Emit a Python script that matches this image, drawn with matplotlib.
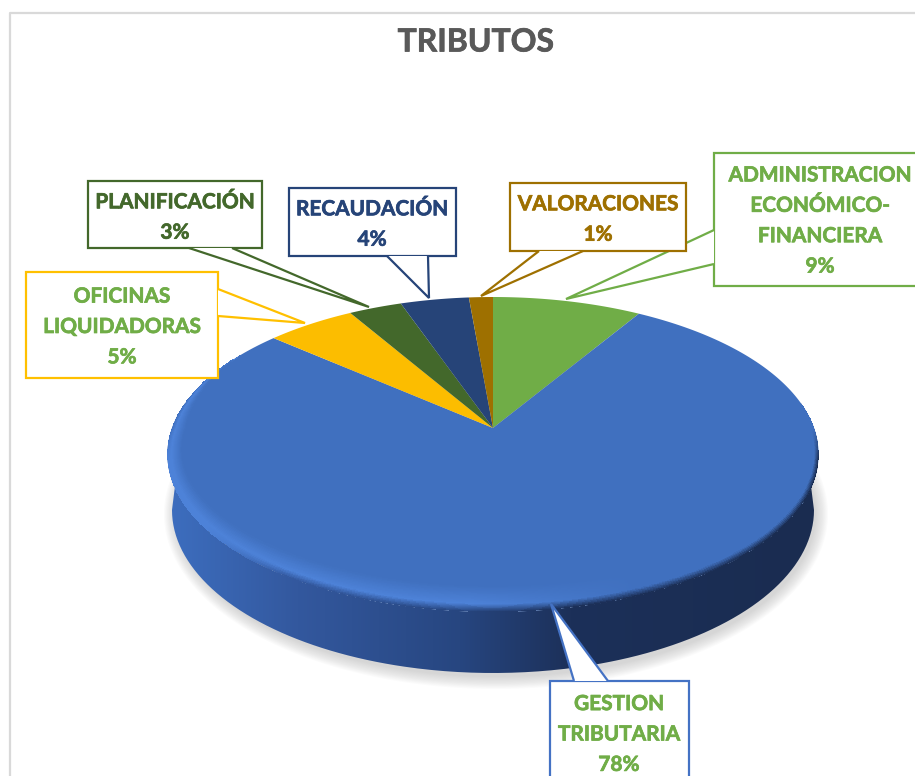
import matplotlib
matplotlib.use("Agg")
import matplotlib.pyplot as plt
import matplotlib.patheffects as pe
from matplotlib.patches import Polygon, Rectangle, PathPatch
from matplotlib.path import Path
from matplotlib.colors import LinearSegmentedColormap, to_rgb
import numpy as np

# slices, clockwise from twelve o'clock
categories = ["ADMINISTRACION\nECONÓMICO-\nFINANCIERA", "GESTION\nTRIBUTARIA", "OFICINAS\nLIQUIDADORAS",
              "PLANIFICACIÓN", "RECAUDACIÓN", "VALORACIONES"]
values = [8.7, 77.6, 5.2, 3.1, 4.0, 1.4]
slice_colors = ["#70AD47", "#4070BF", "#FCBD00", "#43682B", "#264478", "#9E7000"]
label_colors = ["#70AD47", "#70AD47", "#70AD47", "#43682B", "#264478", "#9E7000"]
border_colors = ["#70AD47", "#4472C4", "#FFC000", "#43682B", "#264478", "#9E7000"]
chart_title = "TRIBUTOS"

plt.rcParams['font.family'] = ['Lato', 'DejaVu Sans']

fig = plt.figure(figsize=(9.15, 7.76), dpi=100)
ax = fig.add_axes([0, 0, 1, 1])
ax.axis("off")

# perspective of the pie disc
cx, cy = 493, 428
a, b, k = 321, 153, 0.168


def project(ang, r=1.0):
    u = r * np.sin(ang)
    v = r * np.cos(ang)
    w = 1 + k * v
    return cx + a * u / w, cy - b * v / w


def sector(a0, a1):
    t = np.linspace(a0, a1, 300)
    x, y = project(t)
    return np.column_stack([np.r_[cx, x], np.r_[cy, y]])


def bold(color, width=0.5):
    return [pe.withStroke(linewidth=width, foreground=color)]


edges = np.radians(np.r_[0, np.cumsum(values)] * 3.6)

# outer frame of the chart
ax.plot([915, 10, 10], [13, 13, 776], color="#D9D9D9", lw=1.6, zorder=1)

# soft shadow under the disc, follows the base of the wall
th = np.linspace(0, 2 * np.pi, 400)
for i in range(12):
    grow = 13 - i * 1.1
    ax.fill(496 + (319 + grow) * np.cos(th), 514 + (162 + grow) * np.sin(th),
            color="#8C8C8C", alpha=0.032, lw=0, zorder=2)

# side wall, gets dark towards the right
wall_stops = [(0, "#3D6EBF"), (0.2, "#33589E"), (0.45, "#274680"), (0.62, "#1C3059"), (1, "#1A2C50")]
side_cmap = LinearSegmentedColormap.from_list("side", wall_stops)
front = np.linspace(np.pi / 2 - 0.17, 3 * np.pi / 2 + 0.17, 300)
fx, fy = project(front)
base = np.linspace(0, np.pi, 300)
bx, by = 493 + 321 * np.cos(base), 510 + 163 * np.sin(base)
verts = np.r_[np.column_stack([fx, fy]), np.column_stack([bx[::-1], by[::-1]])]
im = ax.imshow(np.linspace(0, 1, 256)[None, :], cmap=side_cmap, extent=(167, 818, 700, 400),
               aspect="auto", zorder=3)
im.set_clip_path(PathPatch(Path(np.r_[verts, verts[:1]]), transform=ax.transData))
ax.set_xlim(0, 915)
ax.set_ylim(776, 0)

# slices
i_blue = categories.index("GESTION\nTRIBUTARIA")
for i, col in enumerate(slice_colors):
    ax.add_patch(Polygon(sector(edges[i], edges[i + 1]), closed=True, fc=col, ec="none", zorder=4))

# bevel of the blue slice as a strip along its rim
face = np.array(to_rgb(slice_colors[i_blue]))
shine = np.array(to_rgb("#4D82D8"))
t_b = np.linspace(np.pi / 2 - 0.17, 3 * np.pi / 2 + 0.75, 500)
s_b = np.linspace(0, 1, 30)
T, S = np.meshgrid(t_b, s_b)
fade = np.clip((0.55 - np.cos(T)) / 0.55, 0, 1)                       # none at the back of the disc
fade = fade * np.clip((3 * np.pi / 2 + 0.75 - T) / 0.5, 0, 1)
X, Y = project(T, 1 - 0.042 * S * fade)
Y = Y - 16 * S * np.maximum(-np.cos(T), 0)
p = (X - 167) / 651
wall_rgb = np.array([side_cmap(v)[:3] for v in p.ravel()]).reshape(p.shape + (3,))
shine_w = np.clip((0.72 - p) / 0.25, 0, 1)[..., None]
mid = shine * shine_w + face * (1 - shine_w)
back = np.clip(np.cos(T) / 0.2 + 1, 0, 1)[..., None]                  # rim stays flat colour behind
edge = wall_rgb * (1 - back) + face * back
left_bright = (np.clip((0.18 - p) / 0.12, 0, 1) * (1 - back[..., 0]))[..., None]
edge = edge * (1 - left_bright) + shine * left_bright
s3 = S[..., None]
c = np.where(s3 < 0.3, edge + (mid - edge) * s3 / 0.3, mid + (face - mid) * (s3 - 0.3) / 0.7)
c = np.where(fade[..., None] > 0, c, face)
ax.pcolormesh(X, Y, c[:-1, :-1], shading="flat", antialiased=False, linewidth=0, zorder=5)
ax.set_xlim(0, 915)
ax.set_ylim(776, 0)

ax.text(476, 42, chart_title, color="#595959", fontsize=23, fontweight="bold", ha="center", va="center",
        path_effects=bold("#595959"))

# callouts: box (x0, y0, x1, y1), pointer base points and tip, text centre
callouts = {
    0: ((714, 153, 930, 286), [(714, 230), (566, 299), (714, 264)], (820, 221)),
    1: ((550, 681, 689, 800), [(574, 681), (551, 604), (608, 681)], (619, 734.5)),
    2: ((26, 272, 218, 378), [(218, 289), (305, 323), (218, 316)], (122, 327)),
    3: ((88, 181, 262, 248), [(189, 248), (369, 307), (232, 248)], (175, 217.5)),
    4: ((289, 188, 456, 256), [(387, 256), (429, 298), (428, 256)], (372, 224.5)),
    5: ((510, 183, 686, 251), [(539, 251), (481, 296), (583, 251)], (598, 219.5)),
}
for z, i in enumerate(callouts):
    (x0, y0, x1, y1), ptr, (tx, ty) = callouts[i]
    ax.add_patch(Rectangle((x0, y0), x1 - x0, y1 - y0, fc="white", ec=border_colors[i], lw=1.6, zorder=6 + z))
    ax.add_patch(Polygon(ptr, closed=False, fc="white", ec=border_colors[i], lw=1.6, zorder=6 + z,
                         joinstyle="miter"))
    ax.text(tx, ty, f"{categories[i]}\n{round(values[i])}%", color=label_colors[i], fontsize=15,
            fontweight="bold", ha="center", va="center", linespacing=1.65, zorder=6 + z,
            path_effects=bold(label_colors[i]))

fig.savefig("out.png", dpi=100)
